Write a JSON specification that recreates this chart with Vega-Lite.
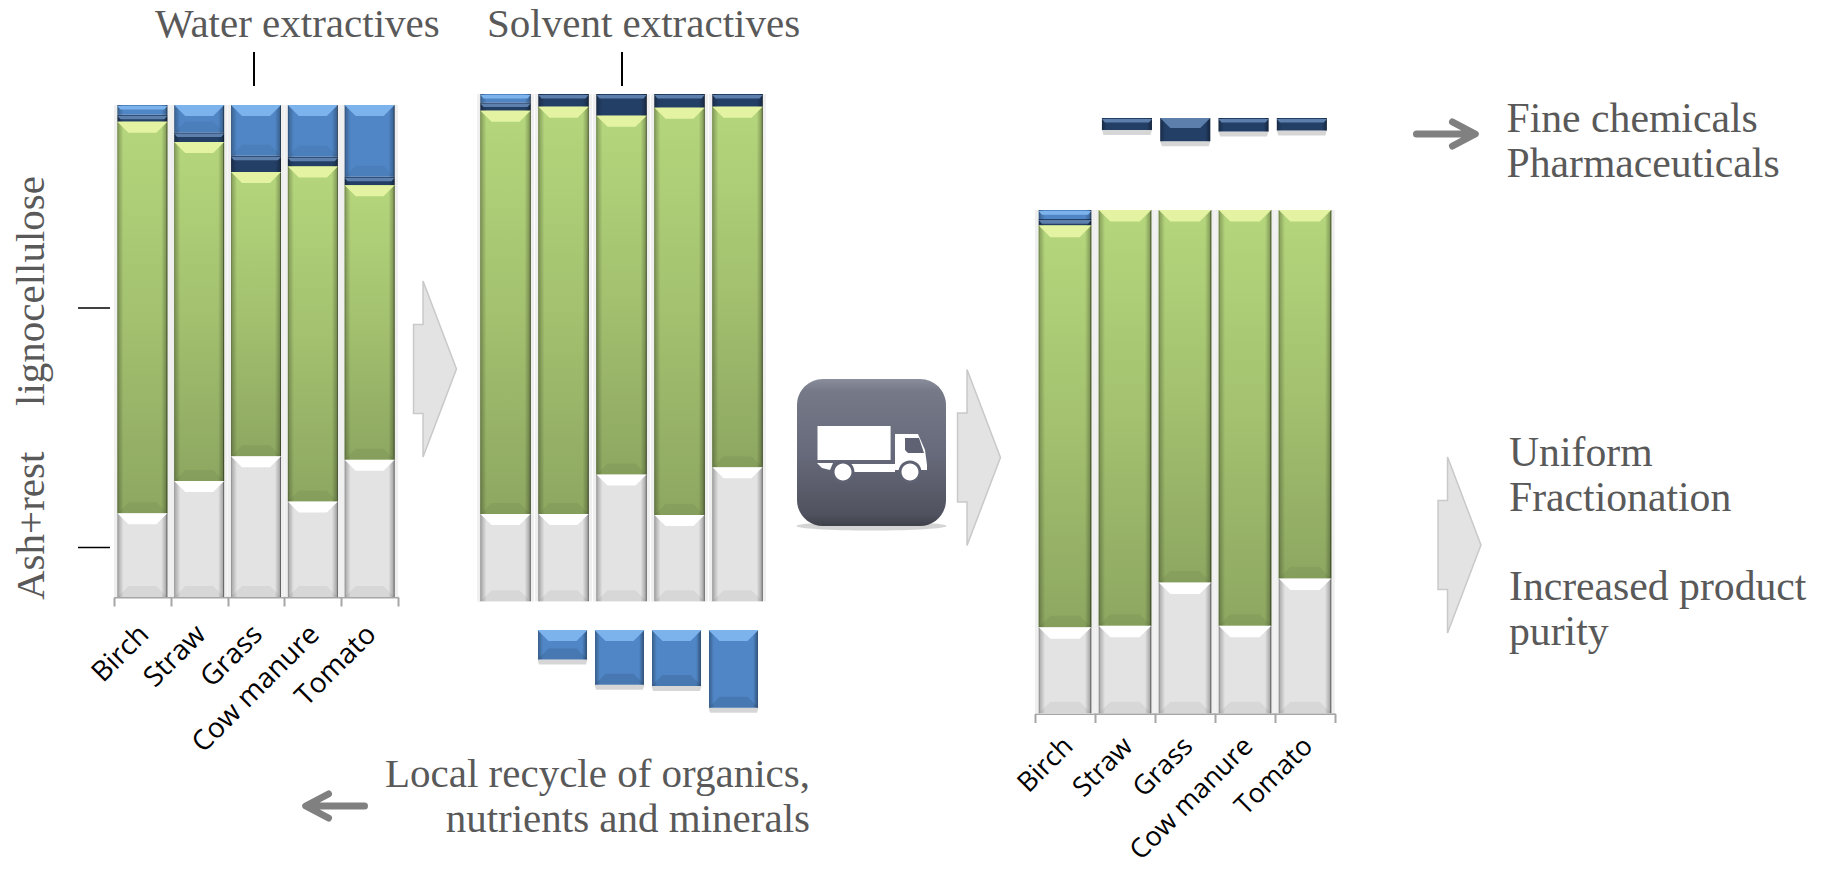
{
  "$schema": "https://vega.github.io/schema/vega-lite/v6.json",
  "padding": 0,
  "background": "white",
  "spacing": 0,
  "bounds": "flush",
  "config": {
    "view": {"stroke": null},
    "axis": {"title": null, "grid": false},
    "text": {"font": "Liberation Serif", "fontSize": 41, "color": "#595959", "lineBreak": "\n", "lineHeight": 45, "baseline": "alphabetic", "align": "left"}
  },
  "datasets": {
    "raw": [
      {"material": "Birch", "series": "Ash+rest", "share": 17.0},
      {"material": "Birch", "series": "Lignocellulose", "share": 79.6},
      {"material": "Birch", "series": "Solvent extractives", "share": 1.4},
      {"material": "Birch", "series": "Water extractives", "share": 2.0},
      {"material": "Straw", "series": "Ash+rest", "share": 23.6},
      {"material": "Straw", "series": "Lignocellulose", "share": 68.9},
      {"material": "Straw", "series": "Solvent extractives", "share": 1.9},
      {"material": "Straw", "series": "Water extractives", "share": 5.6},
      {"material": "Grass", "series": "Ash+rest", "share": 28.6},
      {"material": "Grass", "series": "Lignocellulose", "share": 57.8},
      {"material": "Grass", "series": "Solvent extractives", "share": 3.3},
      {"material": "Grass", "series": "Water extractives", "share": 10.3},
      {"material": "Cow manure", "series": "Ash+rest", "share": 19.4},
      {"material": "Cow manure", "series": "Lignocellulose", "share": 68.1},
      {"material": "Cow manure", "series": "Solvent extractives", "share": 2.0},
      {"material": "Cow manure", "series": "Water extractives", "share": 10.5},
      {"material": "Tomato", "series": "Ash+rest", "share": 27.9},
      {"material": "Tomato", "series": "Lignocellulose", "share": 55.8},
      {"material": "Tomato", "series": "Solvent extractives", "share": 1.7},
      {"material": "Tomato", "series": "Water extractives", "share": 14.6}
    ],
    "washed": [
      {"material": "Birch", "series": "Ash+rest", "share": 17.2},
      {"material": "Birch", "series": "Lignocellulose", "share": 79.5},
      {"material": "Birch", "series": "Solvent extractives", "share": 1.6},
      {"material": "Birch", "series": "Water extractives", "share": 1.7},
      {"material": "Straw", "series": "Ash+rest", "share": 17.2},
      {"material": "Straw", "series": "Lignocellulose", "share": 80.3},
      {"material": "Straw", "series": "Solvent extractives", "share": 2.5},
      {"material": "Grass", "series": "Ash+rest", "share": 25.0},
      {"material": "Grass", "series": "Lignocellulose", "share": 70.7},
      {"material": "Grass", "series": "Solvent extractives", "share": 4.3},
      {"material": "Cow manure", "series": "Ash+rest", "share": 17.0},
      {"material": "Cow manure", "series": "Lignocellulose", "share": 80.3},
      {"material": "Cow manure", "series": "Solvent extractives", "share": 2.7},
      {"material": "Tomato", "series": "Ash+rest", "share": 26.4},
      {"material": "Tomato", "series": "Lignocellulose", "share": 71.1},
      {"material": "Tomato", "series": "Solvent extractives", "share": 2.5}
    ],
    "cleaned": [
      {"material": "Birch", "series": "Ash+rest", "share": 17.1},
      {"material": "Birch", "series": "Lignocellulose", "share": 79.8},
      {"material": "Birch", "series": "Solvent extractives", "share": 1.3},
      {"material": "Birch", "series": "Water extractives", "share": 1.8},
      {"material": "Straw", "series": "Ash+rest", "share": 17.4},
      {"material": "Straw", "series": "Lignocellulose", "share": 82.6},
      {"material": "Grass", "series": "Ash+rest", "share": 26.0},
      {"material": "Grass", "series": "Lignocellulose", "share": 74.0},
      {"material": "Cow manure", "series": "Ash+rest", "share": 17.4},
      {"material": "Cow manure", "series": "Lignocellulose", "share": 82.6},
      {"material": "Tomato", "series": "Ash+rest", "share": 26.8},
      {"material": "Tomato", "series": "Lignocellulose", "share": 73.2}
    ],
    "recycled": [
      {"material": "Straw", "share": 5.8},
      {"material": "Grass", "share": 10.8},
      {"material": "Cow manure", "share": 11.0},
      {"material": "Tomato", "share": 15.3}
    ],
    "fine": [
      {"material": "Straw", "share": 2.4},
      {"material": "Grass", "share": 4.6},
      {"material": "Cow manure", "share": 2.7},
      {"material": "Tomato", "share": 2.5}
    ]
  },
  "hconcat": [
    {
      "width": 440,
      "height": 870,
      "resolve": {"scale": {"x": "independent", "y": "independent", "color": "independent", "fill": "independent"}},
      "layer": [
        {
          "data": {"name": "raw"},
          "transform": [{"stack": "share", "groupby": ["material"], "sort": [{"field": "series"}], "as": ["y0", "y1"]}],
          "encoding": {
            "x": {
              "field": "material", "type": "nominal",
              "scale": {"type": "band", "domain": ["Birch", "Straw", "Grass", "Cow manure", "Tomato"], "range": [114, 398], "paddingInner": 0, "paddingOuter": 0},
              "axis": {"offset": -273, "tickBand": "extent", "domainColor": "#A6A6A6", "domainWidth": 2, "tickColor": "#A6A6A6", "tickWidth": 2, "tickSize": 9, "labelFont": "Open Sans", "labelFontSize": 28, "labelColor": "#000000", "labelAngle": -45, "labelPadding": 14, "labelOffset": -8, "labelOverlap": false, "labelBound": false}
            }
          },
          "layer": [
            {"mark": {"type": "bar", "color": "#EFEFEF", "width": {"band": 0.985}},
             "encoding": {"y": {"datum": 100, "type": "quantitative", "axis": null}, "y2": {"datum": 0}}},
            {"mark": {"type": "bar", "width": {"band": 0.877}},
             "encoding": {
               "y": {"field": "y1", "type": "quantitative", "scale": {"domain": [0, 100], "range": [597, 105]}, "axis": null},
               "y2": {"field": "y0"},
               "color": {"field": "series", "type": "nominal", "legend": null, "scale": {"domain": ["Ash+rest", "Lignocellulose", "Solvent extractives", "Water extractives"], "range": ["#E3E3E3", "#A6C472", "#243F66", "#5086C6"]}}
             }},
            {"transform": [{"filter": "datum.series == 'Lignocellulose'"}],
             "mark": {"type": "bar", "width": {"band": 0.877}, "color": {"gradient": "linear", "x1": 0, "y1": 0, "x2": 0, "y2": 1, "stops": [{"offset": 0, "color": "#B5D67C"}, {"offset": 0.5, "color": "#A3C16F"}, {"offset": 1, "color": "#8DA761"}]}},
             "encoding": {"y": {"field": "y1", "type": "quantitative", "axis": null}, "y2": {"field": "y0"}}},
            {"mark": {"type": "bar", "width": {"band": 0.877}, "color": {"gradient": "linear", "x1": 0, "y1": 0, "x2": 1, "y2": 0, "stops": [{"offset": 0, "color": "rgba(0,0,0,0.45)"}, {"offset": 0.025, "color": "rgba(0,0,0,0.22)"}, {"offset": 0.12, "color": "rgba(0,0,0,0)"}, {"offset": 0.88, "color": "rgba(0,0,0,0)"}, {"offset": 0.975, "color": "rgba(0,0,0,0.25)"}, {"offset": 1, "color": "rgba(0,0,0,0.8)"}]}},
             "encoding": {"y": {"field": "y1", "type": "quantitative", "axis": null}, "y2": {"field": "y0"}}},
            {"transform": [{"filter": "datum.y1 - datum.y0 >= 4.5"}],
             "mark": {"type": "point", "shape": "M-0.5,0L0.5,0L0.28,0.22L-0.28,0.22Z", "size": 10000, "filled": true, "opacity": 1, "strokeWidth": 0},
             "encoding": {"y": {"field": "y1", "type": "quantitative", "axis": null},
               "fill": {"field": "series", "type": "nominal", "legend": null, "scale": {"domain": ["Ash+rest", "Lignocellulose", "Solvent extractives", "Water extractives"], "range": ["#FFFFFF", "#E3F3A2", "#5C7FAB", "#7CB3EC"]}}}},
            {"transform": [{"filter": "datum.y1 - datum.y0 < 4.5"}],
             "mark": {"type": "point", "shape": "M-0.5,0.02L0.5,0.02L0.44,0.09L-0.44,0.09Z", "size": 10000, "filled": true, "opacity": 1, "strokeWidth": 0},
             "encoding": {"y": {"field": "y1", "type": "quantitative", "axis": null},
               "fill": {"field": "series", "type": "nominal", "legend": null}}},
            {"transform": [{"filter": "datum.y1 - datum.y0 >= 4.5"}],
             "mark": {"type": "point", "shape": "M-0.5,0L0.5,0L0.28,-0.22L-0.28,-0.22Z", "size": 10000, "filled": true, "opacity": 1, "strokeWidth": 0, "fill": "rgba(0,0,0,0.05)"},
             "encoding": {"y": {"field": "y0", "type": "quantitative", "axis": null}}}
          ]
        },
        {"data": {"values": [{"label": "Water extractives"}]}, "mark": {"type": "text"},
         "encoding": {"text": {"field": "label"}, "x": {"value": 155}, "y": {"value": 36.6}}},
        {"data": {"values": [{"label": "lignocellulose"}]}, "mark": {"type": "text", "angle": 270},
         "encoding": {"text": {"field": "label"}, "x": {"value": 44}, "y": {"value": 406}}},
        {"data": {"values": [{"label": "Ash+rest"}]}, "mark": {"type": "text", "angle": 270},
         "encoding": {"text": {"field": "label"}, "x": {"value": 44}, "y": {"value": 600}}},
        {"data": {"values": [{"mark": "lignocellulose"}]}, "mark": {"type": "rule", "color": "#000000", "strokeWidth": 1.5},
         "encoding": {"x": {"value": 78}, "x2": {"value": 110}, "y": {"value": 308}}},
        {"data": {"values": [{"mark": "ash"}]}, "mark": {"type": "rule", "color": "#000000", "strokeWidth": 1.5},
         "encoding": {"x": {"value": 78}, "x2": {"value": 110}, "y": {"value": 547.5}}},
        {"data": {"values": [{"mark": "water"}]}, "mark": {"type": "rule", "color": "#000000", "strokeWidth": 2},
         "encoding": {"x": {"value": 254}, "y": {"value": 52}, "y2": {"value": 86}}},
        {"data": {"values": [{"mark": "first step"}]},
         "mark": {"type": "point", "shape": "M-0.122,-0.253L-0.068,-0.253L-0.068,-0.5L0.122,0L-0.068,0.5L-0.068,0.253L-0.122,0.253Z", "size": 123904, "fill": "#E3E3E3", "stroke": "#C9C9C9", "strokeWidth": 1.5, "opacity": 1},
         "encoding": {"x": {"value": 435}, "y": {"value": 369}}},
        {"data": {"values": [{"mark": "recycle"}]},
         "mark": {"type": "point", "shape": "M0.5,0L-0.45,0M-0.1,-0.2L-0.48,0L-0.1,0.2", "size": 14400, "filled": false, "stroke": "#808080", "strokeWidth": 7, "strokeCap": "round", "strokeJoin": "round", "opacity": 1},
         "encoding": {"x": {"value": 334.5}, "y": {"value": 806}}}
      ]
    },
    {
      "width": 560,
      "height": 870,
      "resolve": {"scale": {"x": "independent", "y": "independent", "color": "independent", "fill": "independent"}},
      "layer": [
        {
          "data": {"name": "washed"},
          "transform": [{"stack": "share", "groupby": ["material"], "sort": [{"field": "series"}], "as": ["y0", "y1"]}],
          "encoding": {
            "x": {"field": "material", "type": "nominal", "axis": null,
              "scale": {"type": "band", "domain": ["Birch", "Straw", "Grass", "Cow manure", "Tomato"], "range": [36.5, 326.5], "paddingInner": 0.134, "paddingOuter": 0.067}}
          },
          "layer": [
            {"mark": {"type": "bar", "color": "#EFEFEF", "width": {"band": 1.12}},
             "encoding": {"y": {"datum": 100, "type": "quantitative", "axis": null}, "y2": {"datum": 0}}},
            {"mark": {"type": "bar"},
             "encoding": {
               "y": {"field": "y1", "type": "quantitative", "scale": {"domain": [0, 100], "range": [601.3, 94]}, "axis": null},
               "y2": {"field": "y0"},
               "color": {"field": "series", "type": "nominal", "legend": null, "scale": {"domain": ["Ash+rest", "Lignocellulose", "Solvent extractives", "Water extractives"], "range": ["#E3E3E3", "#A6C472", "#243F66", "#5086C6"]}}
             }},
            {"transform": [{"filter": "datum.series == 'Lignocellulose'"}],
             "mark": {"type": "bar", "color": {"gradient": "linear", "x1": 0, "y1": 0, "x2": 0, "y2": 1, "stops": [{"offset": 0, "color": "#B5D67C"}, {"offset": 0.5, "color": "#A3C16F"}, {"offset": 1, "color": "#8DA761"}]}},
             "encoding": {"y": {"field": "y1", "type": "quantitative", "axis": null}, "y2": {"field": "y0"}}},
            {"mark": {"type": "bar", "color": {"gradient": "linear", "x1": 0, "y1": 0, "x2": 1, "y2": 0, "stops": [{"offset": 0, "color": "rgba(0,0,0,0.45)"}, {"offset": 0.025, "color": "rgba(0,0,0,0.22)"}, {"offset": 0.12, "color": "rgba(0,0,0,0)"}, {"offset": 0.88, "color": "rgba(0,0,0,0)"}, {"offset": 0.975, "color": "rgba(0,0,0,0.25)"}, {"offset": 1, "color": "rgba(0,0,0,0.8)"}]}},
             "encoding": {"y": {"field": "y1", "type": "quantitative", "axis": null}, "y2": {"field": "y0"}}},
            {"transform": [{"filter": "datum.y1 - datum.y0 >= 4.5"}],
             "mark": {"type": "point", "shape": "M-0.5,0L0.5,0L0.28,0.22L-0.28,0.22Z", "size": 10000, "filled": true, "opacity": 1, "strokeWidth": 0},
             "encoding": {"y": {"field": "y1", "type": "quantitative", "axis": null},
               "fill": {"field": "series", "type": "nominal", "legend": null, "scale": {"domain": ["Ash+rest", "Lignocellulose", "Solvent extractives", "Water extractives"], "range": ["#FFFFFF", "#E3F3A2", "#5C7FAB", "#7CB3EC"]}}}},
            {"transform": [{"filter": "datum.y1 - datum.y0 < 4.5"}],
             "mark": {"type": "point", "shape": "M-0.5,0.02L0.5,0.02L0.44,0.09L-0.44,0.09Z", "size": 10000, "filled": true, "opacity": 1, "strokeWidth": 0},
             "encoding": {"y": {"field": "y1", "type": "quantitative", "axis": null},
               "fill": {"field": "series", "type": "nominal", "legend": null}}},
            {"transform": [{"filter": "datum.y1 - datum.y0 >= 4.5"}],
             "mark": {"type": "point", "shape": "M-0.5,0L0.5,0L0.28,-0.22L-0.28,-0.22Z", "size": 10000, "filled": true, "opacity": 1, "strokeWidth": 0, "fill": "rgba(0,0,0,0.05)"},
             "encoding": {"y": {"field": "y0", "type": "quantitative", "axis": null}}}
          ]
        },
        {
          "data": {"name": "recycled"},
          "encoding": {
            "x": {"field": "material", "type": "nominal", "axis": null,
              "scale": {"type": "band", "domain": ["Birch", "Straw", "Grass", "Cow manure", "Tomato"], "range": [37, 322], "paddingInner": 0.14, "paddingOuter": 0.07}}
          },
          "layer": [
            {"mark": {"type": "point", "shape": "M-0.5,0L0.5,0L0.47,0.1L-0.47,0.1Z", "size": 10000, "filled": true, "opacity": 1, "strokeWidth": 0, "fill": "rgba(0,0,0,0.16)"},
             "encoding": {"y": {"field": "share", "type": "quantitative", "axis": null}}},
            {"mark": {"type": "bar", "color": "#5086C6"},
             "encoding": {"y": {"field": "share", "type": "quantitative", "scale": {"domain": [0, 100], "range": [630, 1138]}, "axis": null}, "y2": {"datum": 0}}},
            {"mark": {"type": "bar", "color": {"gradient": "linear", "x1": 0, "y1": 0, "x2": 1, "y2": 0, "stops": [{"offset": 0, "color": "rgba(0,0,0,0.3)"}, {"offset": 0.1, "color": "rgba(0,0,0,0)"}, {"offset": 0.9, "color": "rgba(0,0,0,0)"}, {"offset": 1, "color": "rgba(0,0,0,0.4)"}]}},
             "encoding": {"y": {"field": "share", "type": "quantitative", "axis": null}, "y2": {"datum": 0}}},
            {"mark": {"type": "point", "shape": "M-0.5,0L0.5,0L0.28,0.22L-0.28,0.22Z", "size": 10000, "filled": true, "opacity": 1, "strokeWidth": 0, "fill": "#7CB3EC"},
             "encoding": {"y": {"datum": 0, "type": "quantitative", "axis": null}}},
            {"mark": {"type": "point", "shape": "M-0.5,0L0.5,0L0.28,-0.22L-0.28,-0.22Z", "size": 10000, "filled": true, "opacity": 1, "strokeWidth": 0, "fill": "rgba(0,0,0,0.1)"},
             "encoding": {"y": {"field": "share", "type": "quantitative", "axis": null}}}
          ]
        },
        {"data": {"values": [{"label": "Solvent extractives"}]}, "mark": {"type": "text"},
         "encoding": {"text": {"field": "label"}, "x": {"value": 47}, "y": {"value": 36.6}}},
        {"data": {"values": [{"mark": "solvent"}]}, "mark": {"type": "rule", "color": "#000000", "strokeWidth": 2},
         "encoding": {"x": {"value": 182}, "y": {"value": 52}, "y2": {"value": 86}}},
        {"data": {"values": [{"label": "Local recycle of organics,\nnutrients and minerals"}]}, "mark": {"type": "text", "align": "right"},
         "encoding": {"text": {"field": "label"}, "x": {"value": 370}, "y": {"value": 787}}},
        {"data": {"values": [{"icon": "icon shadow"}]},
         "mark": {"type": "point", "shape": "M-0.5,0A0.5,0.03 0 1 0 0.5,0A0.5,0.03 0 1 0 -0.5,0Z", "size": 90000, "filled": true, "opacity": 1, "strokeWidth": 0, "fill": "rgba(40,40,40,0.2)"},
         "encoding": {"x": {"value": 431.5}, "y": {"value": 526}}},
        {"data": {"values": [{"icon": "transport"}]},
         "mark": {"type": "rect", "cornerRadius": 26, "color": {"gradient": "linear", "x1": 0, "y1": 0, "x2": 0, "y2": 1, "stops": [{"offset": 0, "color": "#8A8D9B"}, {"offset": 0.08, "color": "#767988"}, {"offset": 0.5, "color": "#676A7A"}, {"offset": 0.92, "color": "#50525F"}, {"offset": 1, "color": "#3E404A"}]}},
         "encoding": {"x": {"value": 357}, "x2": {"value": 506}, "y": {"value": 379}, "y2": {"value": 526}}},
        {"data": {"values": [{"icon": "truck body"}]},
         "mark": {"type": "point", "shape": "M-0.445,-0.24L0.286,-0.24L0.286,0.1L-0.445,0.1ZM0.33,-0.16L0.56,-0.16L0.63,0L0.65,0.15L0.65,0.2L0.33,0.2L0.33,0.22L-0.21,0.22L-0.21,0.14L0.33,0.14ZM-0.45,0.13L-0.29,0.13L-0.32,0.2L-0.4,0.18Z", "size": 40000, "filled": true, "opacity": 1, "strokeWidth": 0, "fill": "#FFFFFF"},
         "encoding": {"x": {"value": 422}, "y": {"value": 450}}},
        {"data": {"values": [{"icon": "truck window and wheel arches"}]},
         "mark": {"type": "point", "shape": "M0.43,-0.12L0.57,-0.12L0.62,0.03L0.46,0.03L0.43,0ZM-0.305,0.22A0.115,0.115 0 1 0 -0.075,0.22A0.115,0.115 0 1 0 -0.305,0.22ZM0.365,0.22A0.115,0.115 0 1 0 0.595,0.22A0.115,0.115 0 1 0 0.365,0.22Z", "size": 40000, "filled": true, "opacity": 1, "strokeWidth": 0, "fill": "#5F6272"},
         "encoding": {"x": {"value": 422}, "y": {"value": 450}}},
        {"data": {"values": [{"icon": "truck wheels"}]},
         "mark": {"type": "point", "shape": "M-0.275,0.22A0.085,0.085 0 1 0 -0.105,0.22A0.085,0.085 0 1 0 -0.275,0.22ZM0.395,0.22A0.085,0.085 0 1 0 0.565,0.22A0.085,0.085 0 1 0 0.395,0.22Z", "size": 40000, "filled": true, "opacity": 1, "strokeWidth": 0, "fill": "#FFFFFF"},
         "encoding": {"x": {"value": 422}, "y": {"value": 450}}},
        {"data": {"values": [{"mark": "second step"}]},
         "mark": {"type": "point", "shape": "M-0.122,-0.253L-0.068,-0.253L-0.068,-0.5L0.122,0L-0.068,0.5L-0.068,0.253L-0.122,0.253Z", "size": 123904, "fill": "#E3E3E3", "stroke": "#C9C9C9", "strokeWidth": 1.5, "opacity": 1},
         "encoding": {"x": {"value": 539}, "y": {"value": 457.5}}}
      ]
    },
    {
      "width": 827,
      "height": 870,
      "resolve": {"scale": {"x": "independent", "y": "independent", "color": "independent", "fill": "independent"}},
      "layer": [
        {
          "data": {"name": "cleaned"},
          "transform": [{"stack": "share", "groupby": ["material"], "sort": [{"field": "series"}], "as": ["y0", "y1"]}],
          "encoding": {
            "x": {
              "field": "material", "type": "nominal",
              "scale": {"type": "band", "domain": ["Birch", "Straw", "Grass", "Cow manure", "Tomato"], "range": [35, 335], "paddingInner": 0, "paddingOuter": 0},
              "axis": {"offset": -156.5, "tickBand": "extent", "domainColor": "#A6A6A6", "domainWidth": 2, "tickColor": "#A6A6A6", "tickWidth": 2, "tickSize": 9, "labelFont": "Open Sans", "labelFontSize": 27, "labelColor": "#000000", "labelAngle": -45, "labelPadding": 10, "labelOffset": -6, "labelOverlap": false, "labelBound": false}
            }
          },
          "layer": [
            {"mark": {"type": "bar", "color": "#EFEFEF", "width": {"band": 0.985}},
             "encoding": {"y": {"datum": 100, "type": "quantitative", "axis": null}, "y2": {"datum": 0}}},
            {"mark": {"type": "bar", "width": {"band": 0.875}},
             "encoding": {
               "y": {"field": "y1", "type": "quantitative", "scale": {"domain": [0, 100], "range": [713.3, 210]}, "axis": null},
               "y2": {"field": "y0"},
               "color": {"field": "series", "type": "nominal", "legend": null, "scale": {"domain": ["Ash+rest", "Lignocellulose", "Solvent extractives", "Water extractives"], "range": ["#E3E3E3", "#A6C472", "#243F66", "#5086C6"]}}
             }},
            {"transform": [{"filter": "datum.series == 'Lignocellulose'"}],
             "mark": {"type": "bar", "width": {"band": 0.875}, "color": {"gradient": "linear", "x1": 0, "y1": 0, "x2": 0, "y2": 1, "stops": [{"offset": 0, "color": "#B5D67C"}, {"offset": 0.5, "color": "#A3C16F"}, {"offset": 1, "color": "#8DA761"}]}},
             "encoding": {"y": {"field": "y1", "type": "quantitative", "axis": null}, "y2": {"field": "y0"}}},
            {"mark": {"type": "bar", "width": {"band": 0.875}, "color": {"gradient": "linear", "x1": 0, "y1": 0, "x2": 1, "y2": 0, "stops": [{"offset": 0, "color": "rgba(0,0,0,0.45)"}, {"offset": 0.025, "color": "rgba(0,0,0,0.22)"}, {"offset": 0.12, "color": "rgba(0,0,0,0)"}, {"offset": 0.88, "color": "rgba(0,0,0,0)"}, {"offset": 0.975, "color": "rgba(0,0,0,0.25)"}, {"offset": 1, "color": "rgba(0,0,0,0.8)"}]}},
             "encoding": {"y": {"field": "y1", "type": "quantitative", "axis": null}, "y2": {"field": "y0"}}},
            {"transform": [{"filter": "datum.y1 - datum.y0 >= 4.5"}],
             "mark": {"type": "point", "shape": "M-0.5,0L0.5,0L0.28,0.22L-0.28,0.22Z", "size": 11025, "filled": true, "opacity": 1, "strokeWidth": 0},
             "encoding": {"y": {"field": "y1", "type": "quantitative", "axis": null},
               "fill": {"field": "series", "type": "nominal", "legend": null, "scale": {"domain": ["Ash+rest", "Lignocellulose", "Solvent extractives", "Water extractives"], "range": ["#FFFFFF", "#E3F3A2", "#5C7FAB", "#7CB3EC"]}}}},
            {"transform": [{"filter": "datum.y1 - datum.y0 < 4.5"}],
             "mark": {"type": "point", "shape": "M-0.5,0.02L0.5,0.02L0.44,0.09L-0.44,0.09Z", "size": 11025, "filled": true, "opacity": 1, "strokeWidth": 0},
             "encoding": {"y": {"field": "y1", "type": "quantitative", "axis": null},
               "fill": {"field": "series", "type": "nominal", "legend": null}}},
            {"transform": [{"filter": "datum.y1 - datum.y0 >= 4.5"}],
             "mark": {"type": "point", "shape": "M-0.5,0L0.5,0L0.28,-0.22L-0.28,-0.22Z", "size": 11025, "filled": true, "opacity": 1, "strokeWidth": 0, "fill": "rgba(0,0,0,0.05)"},
             "encoding": {"y": {"field": "y0", "type": "quantitative", "axis": null}}}
          ]
        },
        {
          "data": {"name": "fine"},
          "encoding": {
            "x": {"field": "material", "type": "nominal", "axis": null,
              "scale": {"type": "band", "domain": ["Birch", "Straw", "Grass", "Cow manure", "Tomato"], "range": [39.5, 331], "paddingInner": 0.142, "paddingOuter": 0.071}}
          },
          "layer": [
            {"mark": {"type": "point", "shape": "M-0.5,0L0.5,0L0.47,0.1L-0.47,0.1Z", "size": 10000, "filled": true, "opacity": 1, "strokeWidth": 0, "fill": "rgba(0,0,0,0.16)"},
             "encoding": {"y": {"field": "share", "type": "quantitative", "axis": null}}},
            {"mark": {"type": "bar", "color": "#243F66"},
             "encoding": {"y": {"field": "share", "type": "quantitative", "scale": {"domain": [0, 100], "range": [118, 621]}, "axis": null}, "y2": {"datum": 0}}},
            {"mark": {"type": "bar", "color": {"gradient": "linear", "x1": 0, "y1": 0, "x2": 1, "y2": 0, "stops": [{"offset": 0, "color": "rgba(0,0,0,0.3)"}, {"offset": 0.1, "color": "rgba(0,0,0,0)"}, {"offset": 0.9, "color": "rgba(0,0,0,0)"}, {"offset": 1, "color": "rgba(0,0,0,0.4)"}]}},
             "encoding": {"y": {"field": "share", "type": "quantitative", "axis": null}, "y2": {"datum": 0}}},
            {"transform": [{"filter": "datum.share >= 4"}],
             "mark": {"type": "point", "shape": "M-0.5,0L0.5,0L0.3,0.2L-0.3,0.2Z", "size": 10000, "filled": true, "opacity": 1, "strokeWidth": 0, "fill": "#5C7FAB"},
             "encoding": {"y": {"datum": 0, "type": "quantitative", "axis": null}}},
            {"transform": [{"filter": "datum.share < 4"}],
             "mark": {"type": "point", "shape": "M-0.5,0.02L0.5,0.02L0.44,0.09L-0.44,0.09Z", "size": 10000, "filled": true, "opacity": 1, "strokeWidth": 0, "fill": "#5C7FAB"},
             "encoding": {"y": {"datum": 0, "type": "quantitative", "axis": null}}}
          ]
        },
        {"data": {"values": [{"mark": "to products"}]},
         "mark": {"type": "point", "shape": "M-0.5,0L0.45,0M0.1,-0.2L0.48,0L0.1,0.2", "size": 14400, "filled": false, "stroke": "#808080", "strokeWidth": 7, "strokeCap": "round", "strokeJoin": "round", "opacity": 1},
         "encoding": {"x": {"value": 446.5}, "y": {"value": 134}}},
        {"data": {"values": [{"label": "Fine chemicals\nPharmaceuticals"}]}, "mark": {"type": "text", "fontSize": 41.7},
         "encoding": {"text": {"field": "label"}, "x": {"value": 506.5}, "y": {"value": 132}}},
        {"data": {"values": [{"mark": "third step"}]},
         "mark": {"type": "point", "shape": "M-0.122,-0.253L-0.068,-0.253L-0.068,-0.5L0.122,0L-0.068,0.5L-0.068,0.253L-0.122,0.253Z", "size": 123904, "fill": "#E3E3E3", "stroke": "#C9C9C9", "strokeWidth": 1.5, "opacity": 1},
         "encoding": {"x": {"value": 459.5}, "y": {"value": 545}}},
        {"data": {"values": [{"label": "Uniform\nFractionation"}]}, "mark": {"type": "text", "fontSize": 41.7},
         "encoding": {"text": {"field": "label"}, "x": {"value": 509}, "y": {"value": 466}}},
        {"data": {"values": [{"label": "Increased product\npurity"}]}, "mark": {"type": "text", "fontSize": 41.7},
         "encoding": {"text": {"field": "label"}, "x": {"value": 509}, "y": {"value": 600}}}
      ]
    }
  ]
}
